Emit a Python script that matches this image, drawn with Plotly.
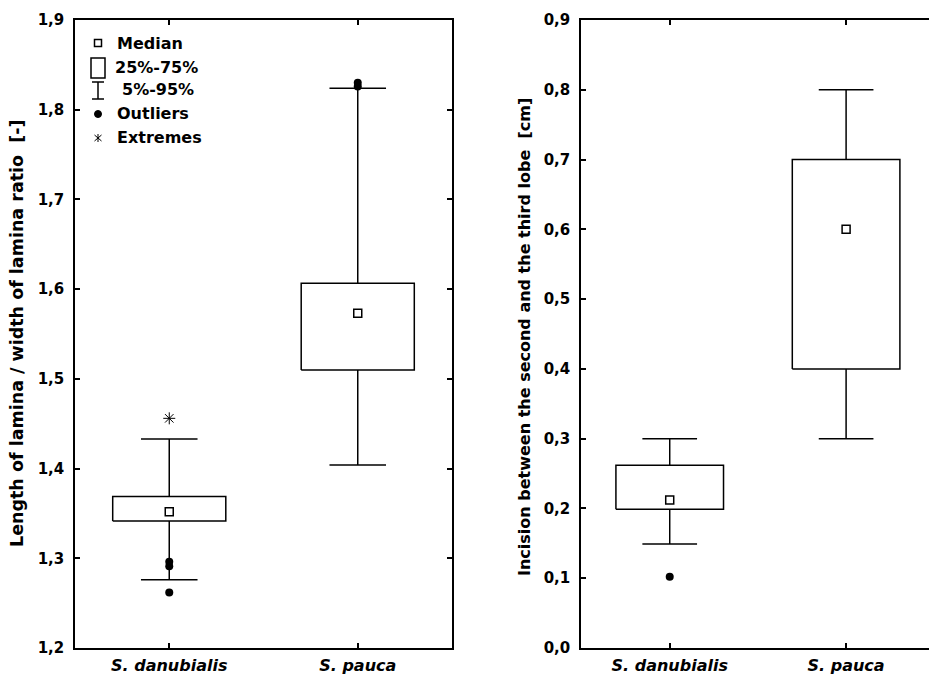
import plotly.graph_objects as go

# ---- data -------------------------------------------------------------
categories = ["S. danubialis", "S. pauca"]

# Length of lamina / width of lamina ratio
ratio_p05 = [1.276, 1.404]
ratio_q1 = [1.3415, 1.510]
ratio_median = [1.352, 1.573]
ratio_q3 = [1.369, 1.6065]
ratio_p95 = [1.433, 1.824]
ratio_outliers = [[1.291, 1.296, 1.262], [1.826, 1.830]]
ratio_extremes = [[1.456], []]

# Incision between the second and the third lobe [cm]
incision_p05 = [0.149, 0.30]
incision_q1 = [0.199, 0.40]
incision_median = [0.212, 0.60]
incision_q3 = [0.262, 0.70]
incision_p95 = [0.30, 0.80]
incision_outliers = [[0.102], []]
incision_extremes = [[], []]

left_ticks = [1.2, 1.3, 1.4, 1.5, 1.6, 1.7, 1.8, 1.9]
right_ticks = [0.0, 0.1, 0.2, 0.3, 0.4, 0.5, 0.6, 0.7, 0.8, 0.9]

# ---- styling ----------------------------------------------------------
W, H = 929, 678
TOP, BOTTOM = 20, 648
FONT = "DejaVu Sans"
LW = 1.5


def px(x):
    return x / W


def py(y):
    return (BOTTOM - y) / (BOTTOM - TOP)


fig = go.Figure()


def add_boxes(xa, ya, p05, q1, med, q3, p95, outl, extr, half_box, half_cap):
    xs = list(range(len(categories)))
    for i in xs:
        # box 25%-75%
        fig.add_trace(go.Scatter(
            x=[i - half_box, i + half_box, i + half_box, i - half_box, i - half_box],
            y=[q1[i], q1[i], q3[i], q3[i], q1[i]],
            mode="lines", fill="toself", fillcolor="white",
            line=dict(color="black", width=LW),
            xaxis=xa, yaxis=ya, hoverinfo="skip", showlegend=False))
        # whiskers 5%-95%
        fig.add_trace(go.Scatter(
            x=[i, i, None, i - half_cap, i + half_cap, None,
               i, i, None, i - half_cap, i + half_cap],
            y=[q3[i], p95[i], None, p95[i], p95[i], None,
               q1[i], p05[i], None, p05[i], p05[i]],
            mode="lines", line=dict(color="black", width=LW),
            xaxis=xa, yaxis=ya, hoverinfo="skip", showlegend=False))
        # outliers
        if outl[i]:
            fig.add_trace(go.Scatter(
                x=[i] * len(outl[i]), y=outl[i], mode="markers",
                marker=dict(symbol="circle", size=8, color="black"),
                xaxis=xa, yaxis=ya, showlegend=False))
        # extremes
        if extr[i]:
            fig.add_trace(go.Scatter(
                x=[i] * len(extr[i]), y=extr[i], mode="markers",
                marker=dict(symbol="asterisk-open", size=10, color="black",
                            line=dict(color="black", width=1)),
                xaxis=xa, yaxis=ya, showlegend=False))
    # medians
    fig.add_trace(go.Scatter(
        x=xs, y=med, mode="markers",
        marker=dict(symbol="square", size=8, color="white",
                    line=dict(color="black", width=LW)),
        xaxis=xa, yaxis=ya, showlegend=False))


add_boxes("x", "y", ratio_p05, ratio_q1, ratio_median, ratio_q3, ratio_p95,
          ratio_outliers, ratio_extremes, 0.30, 0.15)
add_boxes("x2", "y2", incision_p05, incision_q1, incision_median, incision_q3,
          incision_p95, incision_outliers, incision_extremes, 0.305, 0.155)

tickfont = dict(family=FONT, size=15, color="black", weight="bold")
catfont = dict(family=FONT, size=16, color="black", weight="bold", style="italic")

common_x = dict(
    tickmode="array", tickvals=[0, 1], ticktext=categories,
    ticks="inside", ticklen=5, tickwidth=LW, tickcolor="black",
    showline=True, linecolor="black", linewidth=LW,
    showgrid=False, zeroline=False, tickfont=catfont, fixedrange=True,
    ticklabelstandoff=2,
)
common_y = dict(
    ticks="inside", ticklen=5, tickwidth=LW, tickcolor="black",
    showline=True, linecolor="black", linewidth=LW,
    showgrid=False, zeroline=False, tickfont=tickfont,
    tickformat=".1f", ticklabelstandoff=6, fixedrange=True,
)

fig.update_layout(
    width=W, height=H,
    margin=dict(l=0, r=0, t=TOP, b=H - BOTTOM, pad=0),
    paper_bgcolor="white", plot_bgcolor="white",
    separators=", ",
    showlegend=False,
    xaxis=dict(domain=[px(75), px(452)], range=[-0.5, 1.5], anchor="y",
               mirror="ticks", **common_x),
    yaxis=dict(domain=[0, 1], range=[1.2, 1.9], anchor="x",
               tickvals=left_ticks, mirror="ticks", **common_y),
    xaxis2=dict(domain=[px(581), 1], range=[-0.503, 1.47], anchor="y2",
                mirror="ticks", **common_x),
    yaxis2=dict(domain=[0, 1], range=[0.0, 0.9], anchor="x2",
                tickvals=right_ticks, mirror=False, **common_y),
)

# axis titles
fig.add_annotation(text="Length of lamina / width of lamina ratio  [-]",
                   xref="paper", yref="paper", x=px(17), y=py(333),
                   textangle=-90, showarrow=False,
                   font=dict(family=FONT, size=17.5, color="black", weight="bold"),
                   xanchor="center", yanchor="middle")
fig.add_annotation(text="Incision between the second and the third lobe  [cm]",
                   xref="paper", yref="paper", x=px(525), y=py(337),
                   textangle=-90, showarrow=False,
                   font=dict(family=FONT, size=16, color="black", weight="bold"),
                   xanchor="center", yanchor="middle")

# key for the box symbols
legend_items = [("Median", 115, 43), ("25%-75%", 113, 67), ("5%-95%", 120, 90),
                ("Outliers", 115, 114), ("Extremes", 115, 138)]
legfont = dict(family=FONT, size=16, color="black", weight="bold")
for label, lx, ly in legend_items:
    fig.add_annotation(text=label, xref="paper", yref="paper",
                       x=px(lx), y=py(ly), xanchor="left", yanchor="middle",
                       showarrow=False, font=legfont)

line_style = dict(color="black", width=LW)
shapes = [
    # median square
    dict(type="rect", x0=px(94.5), x1=px(101.5), y0=py(39.5), y1=py(46.5),
         line=line_style, fillcolor="white"),
    # quartile box
    dict(type="rect", x0=px(91), x1=px(105), y0=py(58), y1=py(78),
         line=line_style, fillcolor="white"),
    # whisker glyph
    dict(type="line", x0=px(98), x1=px(98), y0=py(82), y1=py(99), line=line_style),
    dict(type="line", x0=px(92), x1=px(104), y0=py(82), y1=py(82), line=line_style),
    dict(type="line", x0=px(92), x1=px(104), y0=py(99), y1=py(99), line=line_style),
    # outlier dot
    dict(type="circle", x0=px(94.5), x1=px(101.5), y0=py(110.5), y1=py(117.5),
         line=dict(color="black", width=1), fillcolor="black"),
    # extreme asterisk
    dict(type="line", x0=px(98), x1=px(98), y0=py(134), y1=py(142),
         line=dict(color="black", width=1)),
    dict(type="line", x0=px(94.5), x1=px(101.5), y0=py(135), y1=py(141),
         line=dict(color="black", width=1)),
    dict(type="line", x0=px(94.5), x1=px(101.5), y0=py(141), y1=py(135),
         line=dict(color="black", width=1)),
]
for s in shapes:
    s.update(xref="paper", yref="paper")
    fig.add_shape(**s)

fig.write_html("out.html", config={"displayModeBar": False})
